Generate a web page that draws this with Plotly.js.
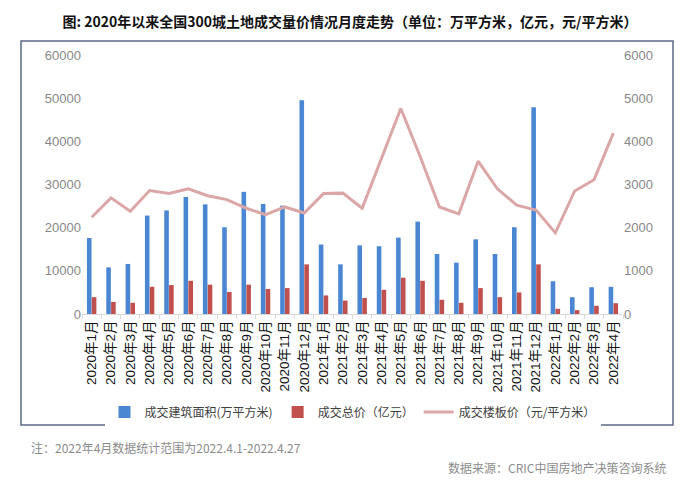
<!DOCTYPE html>
<html>
<head>
<meta charset="utf-8">
<script src="https://cdn.plot.ly/plotly-3.0.1.min.js"></script>
<style>html,body{margin:0;padding:0;background:#fff;}#chart{width:700px;height:485px;}</style>
</head>
<body>
<div id="chart"></div>
<script>
const months = ["2020年1月","2020年2月","2020年3月","2020年4月","2020年5月","2020年6月","2020年7月","2020年8月","2020年9月","2020年10月","2020年11月","2020年12月",
"2021年1月","2021年2月","2021年3月","2021年4月","2021年5月","2021年6月","2021年7月","2021年8月","2021年9月","2021年10月","2021年11月","2021年12月",
"2022年1月","2022年2月","2022年3月","2022年4月"];
const area = [17600,10800,11600,22800,24000,27100,25400,20100,28300,25500,25100,49500,
16100,11500,15900,15700,17700,21400,13900,11900,17300,13900,20100,47900,
7600,3900,6200,6300];
const total = [3900,2800,2600,6300,6700,7700,6800,5100,6800,5800,6000,11500,
4300,3100,3700,5600,8400,7700,3300,2600,6000,3900,5000,11500,
1200,900,1900,2500];
const price = [2240,2690,2380,2860,2790,2900,2740,2650,2450,2300,2480,2340,
2790,2800,2450,3600,4760,3650,2480,2320,3540,2900,2520,2410,
1880,2850,3110,4190];
const leftTicks = [0,10000,20000,30000,40000,50000,60000];
const rightTicks = [0,1000,2000,3000,4000,5000,6000];

const font = "Liberation Sans, Arial, Noto Sans CJK SC, sans-serif";
const cjk = "Noto Sans CJK SC, Liberation Sans, sans-serif";

const traces = [
  {type:"bar", x:months, y:area, name:"成交建筑面积(万平方米)", marker:{color:"#4a86d2"}, yaxis:"y"},
  {type:"bar", x:months, y:total, name:"成交总价（亿元）", marker:{color:"#c0504d"}, yaxis:"y"},
  {type:"scatter", mode:"lines", x:months, y:price, name:"成交楼板价（元/平方米）", line:{color:"#dba7a6", width:3}, yaxis:"y2"}
];

const W = 541, H = 259, L = 82, T = 55;
function px(x){return (x-L)/W;}
function py(y){return (T+H-y)/H;}

const layout = {
  width:700, height:485,
  margin:{l:82, r:77, t:55, b:171},
  paper_bgcolor:"#ffffff", plot_bgcolor:"#ffffff",
  title:{text:"<b>图: 2020年以来全国300城土地成交量价情况月度走势（单位：万平方米，亿元，元/平方米）</b>",
         font:{family:cjk, size:14, color:"#111"}, x:0.5, xanchor:"center", y:1-22/485, yanchor:"middle"},
  barmode:"group", bargap:0.5, bargroupgap:0.05,
  showlegend:true,
  legend:{orientation:"h", x:0.5, xanchor:"center", y:py(412), yanchor:"middle",
          font:{family:cjk, size:12, color:"#404040"}, itemwidth:30, traceorder:"normal"},
  xaxis:{type:"category", tickangle:-90, tickfont:{family:font, size:13.5, color:"#111"},
         showline:true, linecolor:"#d9d9d9", linewidth:1, ticks:"outside", tickcolor:"#d9d9d9", ticklen:4,
         tickson:"boundaries", showgrid:false, zeroline:false, automargin:false},
  yaxis:{range:[0,60000], tickvals:leftTicks, ticktext:leftTicks.map(String), showgrid:false, zeroline:false,
         showline:false, tickfont:{family:font, size:13, color:"#888"}, ticklen:0, ticks:"", automargin:false},
  yaxis2:{range:[0,6000], tickvals:rightTicks, ticktext:rightTicks.map(String), overlaying:"y", side:"right",
          showgrid:false, zeroline:false, showline:false, tickfont:{family:font, size:13, color:"#888"}, ticks:"", automargin:false},
  shapes:[
    {type:"rect", xref:"paper", yref:"paper", x0:px(21), x1:px(673), y0:py(425), y1:py(41),
     line:{color:"#5b6987", width:1.5}, fillcolor:"rgba(0,0,0,0)", layer:"below"}
  ],
  annotations:[
    {xref:"paper", yref:"paper", x:px(29), y:py(448), xanchor:"left", yanchor:"middle", showarrow:false,
     text:"注：2022年4月数据统计范围为2022.4.1-2022.4.27", font:{family:cjk, size:12, color:"#8c8c8c"}},
    {xref:"paper", yref:"paper", x:px(668), y:py(467), xanchor:"right", yanchor:"middle", showarrow:false,
     text:"数据来源：CRIC中国房地产决策咨询系统", font:{family:cjk, size:12, color:"#8c8c8c"}}
  ]
};

Plotly.newPlot("chart", traces, layout, {displayModeBar:false, staticPlot:true});
</script>
</body>
</html>
